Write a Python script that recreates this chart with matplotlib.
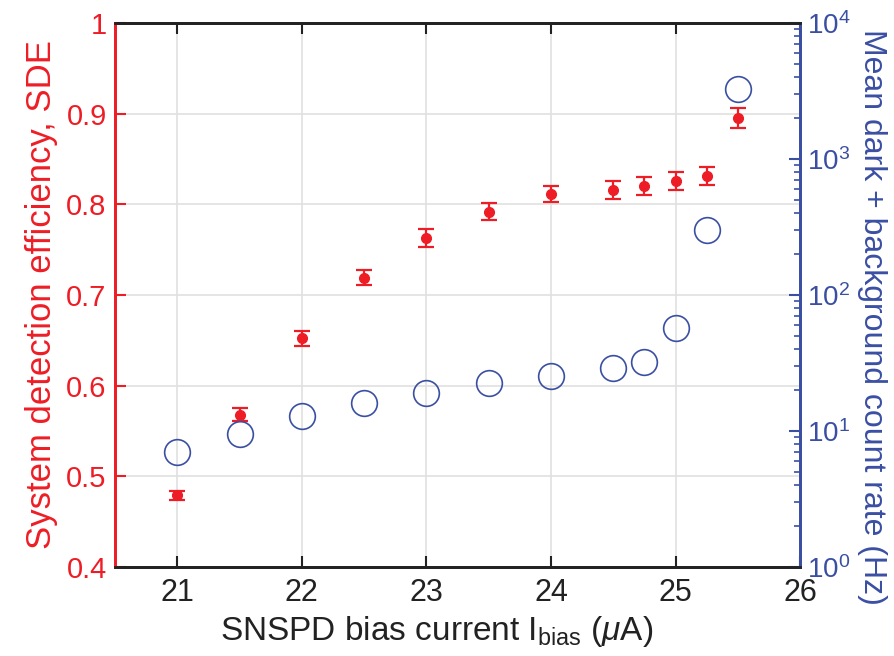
import numpy as np
import matplotlib
matplotlib.use("Agg")
from matplotlib import pyplot as plt
from matplotlib.ticker import LogLocator

plt.rcParams['font.family'] = ['Liberation Sans', 'DejaVu Sans']
plt.rcParams['mathtext.fontset'] = 'custom'
plt.rcParams['mathtext.rm'] = 'Liberation Sans'
plt.rcParams['mathtext.it'] = 'Liberation Sans:italic'

#data
bias = [21, 21.5, 22, 22.5, 23, 23.5, 24, 24.5, 24.75, 25, 25.25, 25.5]
sde = [0.479, 0.568, 0.652, 0.719, 0.763, 0.792, 0.811, 0.816, 0.820, 0.826, 0.831, 0.895]
sde_err = [0.005, 0.007, 0.008, 0.008, 0.010, 0.009, 0.009, 0.010, 0.010, 0.010, 0.010, 0.011]
rate = [7.0, 9.5, 12.8, 16.0, 19.0, 22.5, 25.5, 29, 32, 57, 300, 3250]

red = '#ee1d25'
blue = '#3a4fa2'

fig = plt.figure(figsize=(8.94, 6.56), dpi=100)
ax = fig.add_axes([0.1286, 0.1357, 0.7664, 0.8293])
ax2 = ax.twinx()

ax.errorbar(bias, sde, yerr=sde_err, fmt='o', color=red, ms=7,
            elinewidth=1.6, capsize=5.5, capthick=1.6, zorder=3)
ax2.plot(bias, rate, 'o', mfc='none', mec=blue, ms=18.5, mew=1.2)

ax.set_xlim(20.5, 26)
ax.set_ylim(0.4, 1.0)
ax.set_xticks([21, 22, 23, 24, 25, 26])
ax.set_yticks([0.4, 0.5, 0.6, 0.7, 0.8, 0.9, 1.0])
ax.set_yticklabels(['0.4', '0.5', '0.6', '0.7', '0.8', '0.9', '1'])
ax.grid(True, color='#e0e0e0', lw=1.2)
ax.set_axisbelow(True)

ax2.set_yscale('log')
ax2.set_ylim(1, 1e4)
ax2.yaxis.set_major_locator(LogLocator(base=10, numticks=10))
ax2.yaxis.set_minor_locator(LogLocator(base=10, subs=np.arange(2, 10), numticks=10))

ax.tick_params(axis='x', direction='in', length=8, width=1.5, labelsize=22,
               top=True, colors='#222222', pad=8)
ax.tick_params(axis='y', direction='in', length=8, width=1.5, labelsize=21,
               colors=red, labelcolor=red, pad=6)
ax2.tick_params(axis='y', which='major', direction='in', length=8, width=1.5,
                labelsize=20, colors=blue, labelcolor=blue, pad=5)
ax2.tick_params(axis='y', which='minor', direction='in', length=4.5, width=1.2,
                colors=blue)

for a in (ax, ax2):
    a.spines['top'].set_color('#222222')
    a.spines['bottom'].set_color('#222222')
    a.spines['left'].set_color(red)
    a.spines['right'].set_color(blue)
    for s in a.spines.values():
        s.set_linewidth(2)

ax.set_xlabel(r'SNSPD bias current I$_\mathrm{bias}$ ($\mu$A)', fontsize=24,
              color='#222222', labelpad=4)
ax.xaxis.label.set_x(0.47)
ax.set_ylabel('System detection efficiency, SDE', fontsize=25, color=red, labelpad=6)
ax2.set_ylabel('Mean dark + background count rate (Hz)', fontsize=23, color=blue,
               rotation=270, labelpad=26)
ax2.yaxis.label.set_y(0.46)

fig.savefig('out.png', dpi=100)
